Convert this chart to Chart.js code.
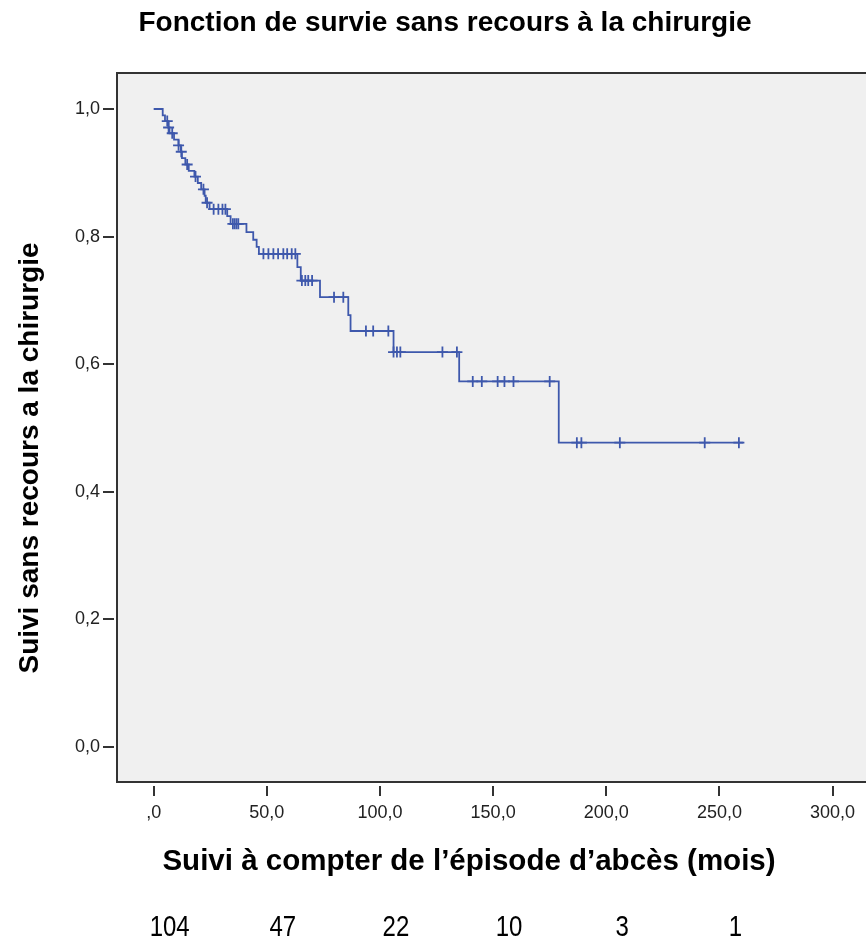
<!DOCTYPE html>
<html>
<head>
<meta charset="utf-8">
<script src="https://cdn.jsdelivr.net/npm/chart.js@4.4.1/dist/chart.umd.min.js"></script>
<style>
  html, body { margin: 0; padding: 0; background: #fff; overflow: hidden }
  #wrap { width: 866px; height: 943px; overflow: hidden }
</style>
</head>
<body>
<div id="wrap"><canvas id="km" width="877" height="943"></canvas></div>
<script>
// Kaplan-Meier steps (months, survival)
const stepTimes = [0, 4, 5, 6.5, 7, 9, 11, 12, 12.5, 14, 15.5, 18, 19.5, 21, 22.5, 23, 24.7,
  32.5, 34, 41, 44, 45.5, 46.5, 63.5, 65, 73.5, 86, 87, 106, 135, 179, 260.5]
const stepSurv = [1.0, 0.990, 0.981, 0.971, 0.962, 0.952, 0.943, 0.933, 0.923, 0.913, 0.903, 0.894, 0.884, 0.874, 0.864, 0.853, 0.843,
  0.832, 0.820, 0.807, 0.795, 0.784, 0.773, 0.752, 0.731, 0.705, 0.677, 0.652, 0.619, 0.573, 0.477, 0.477]

// censored observations (months)
const censorTimes = [6, 6.6, 8.2, 11, 12.2, 14.8, 18.5, 22, 23.6, 26.5, 28.6, 30.4, 31.7, 35, 35.8, 36.6, 37.4,
  48.5, 50.7, 52.9, 55, 57.3, 59, 61, 62.6, 65.5, 67, 68.3, 70, 79.7, 83.8, 93.8, 97, 103.7,
  106, 107.5, 109, 127.6, 134, 141, 145, 152, 155, 159, 175, 187, 189, 206, 243.5, 258.6]

const xTicks = [0, 50, 100, 150, 200, 250, 300]
const yTicks = [0, 0.2, 0.4, 0.6, 0.8, 1.0]

// numbers at risk under the chart
const riskTimes = [0, 50, 100, 150, 200, 250]
const riskCounts = [104, 47, 22, 10, 3, 1]

const BLUE = 'rgb(62,88,172)'
const FONT = '"Liberation Sans", Arial, sans-serif'

const survAt = t => {
  let s = stepSurv[0]
  for (let i = 0; i < stepTimes.length; i++) if (stepTimes[i] <= t) s = stepSurv[i]
  return s
}

const fmt = (v, isX) => {
  if (Math.abs(v) < 1e-9) return isX ? ',0' : '0,0'
  return v.toFixed(1).replace('.', ',')
}

const decor = {
  id: 'decor',
  beforeDraw(chart) {
    const { ctx, chartArea: a } = chart
    ctx.save()
    ctx.fillStyle = '#f0f0f0'
    ctx.fillRect(a.left, a.top, a.right - a.left, a.bottom - a.top)
    ctx.restore()
  },
  afterDraw(chart) {
    const { ctx, chartArea: a, scales: { x, y } } = chart
    ctx.save()
    // frame
    ctx.strokeStyle = '#333'
    ctx.lineWidth = 2
    ctx.strokeRect(a.left, a.top, a.right - a.left, a.bottom - a.top)
    // tick marks
    ctx.beginPath()
    yTicks.forEach(v => {
      const py = Math.round(y.getPixelForValue(v))
      ctx.moveTo(a.left - 14, py); ctx.lineTo(a.left - 3, py)
    })
    xTicks.forEach(v => {
      const px = Math.round(x.getPixelForValue(v))
      ctx.moveTo(px, a.bottom + 4); ctx.lineTo(px, a.bottom + 14)
    })
    ctx.stroke()

    // titles
    ctx.fillStyle = '#000'
    ctx.textAlign = 'center'
    ctx.textBaseline = 'middle'
    ctx.font = `bold 28px ${FONT}`
    ctx.fillText('Fonction de survie sans recours à la chirurgie', 445, 23)
    ctx.font = `bold 29.5px ${FONT}`
    ctx.fillText('Suivi à compter de l’épisode d’abcès (mois)', 469, 862)
    ctx.save()
    ctx.translate(30, 458)
    ctx.rotate(-Math.PI / 2)
    ctx.font = `bold 28px ${FONT}`
    ctx.fillText('Suivi sans recours a la chirurgie', 0, 0)
    ctx.restore()

    // numbers at risk (narrow face)
    ctx.font = `30px ${FONT}`
    riskTimes.forEach((t, i) => {
      ctx.save()
      ctx.translate(x.getPixelForValue(t) + 16, 928)
      ctx.scale(0.8, 1)
      ctx.fillText(String(riskCounts[i]), 0, 0)
      ctx.restore()
    })
    ctx.restore()
  }
}

new Chart(document.getElementById('km'), {
  type: 'line',
  data: {
    datasets: [
      {
        data: stepTimes.map((t, i) => ({ x: t, y: stepSurv[i] })),
        stepped: 'before',
        borderColor: BLUE,
        borderWidth: 1.8,
        pointRadius: 0,
        fill: false
      },
      {
        data: censorTimes.map(t => ({ x: t, y: survAt(t) })),
        showLine: false,
        pointStyle: 'cross',
        pointRadius: 5.5,
        borderColor: BLUE,
        borderWidth: 1.8
      }
    ]
  },
  options: {
    responsive: false,
    animation: false,
    devicePixelRatio: 1,
    layout: { padding: { top: 73, left: 0, right: 0, bottom: 0 } },
    plugins: { legend: { display: false }, tooltip: { enabled: false }, title: { display: false } },
    scales: {
      x: {
        type: 'linear',
        min: -16.2,
        max: 316.4,
        afterBuildTicks: s => { s.ticks = xTicks.map(v => ({ value: v })) },
        afterFit: s => { s.height = 943 - 782; s.paddingLeft = 0; s.paddingRight = 0 },
        grid: { display: false, drawTicks: false },
        border: { display: false },
        ticks: { padding: 20, color: '#222', font: { family: FONT, size: 18 }, maxRotation: 0, callback: v => fmt(v, true) }
      },
      y: {
        type: 'linear',
        min: -0.0549,
        max: 1.0564,
        afterBuildTicks: s => { s.ticks = yTicks.map(v => ({ value: v })) },
        afterFit: s => { s.width = 117 },
        grid: { display: false, drawTicks: false },
        border: { display: false },
        ticks: { padding: 17, color: '#222', font: { family: FONT, size: 18 }, callback: v => fmt(v, false) }
      }
    }
  },
  plugins: [decor]
})
</script>
</body>
</html>
